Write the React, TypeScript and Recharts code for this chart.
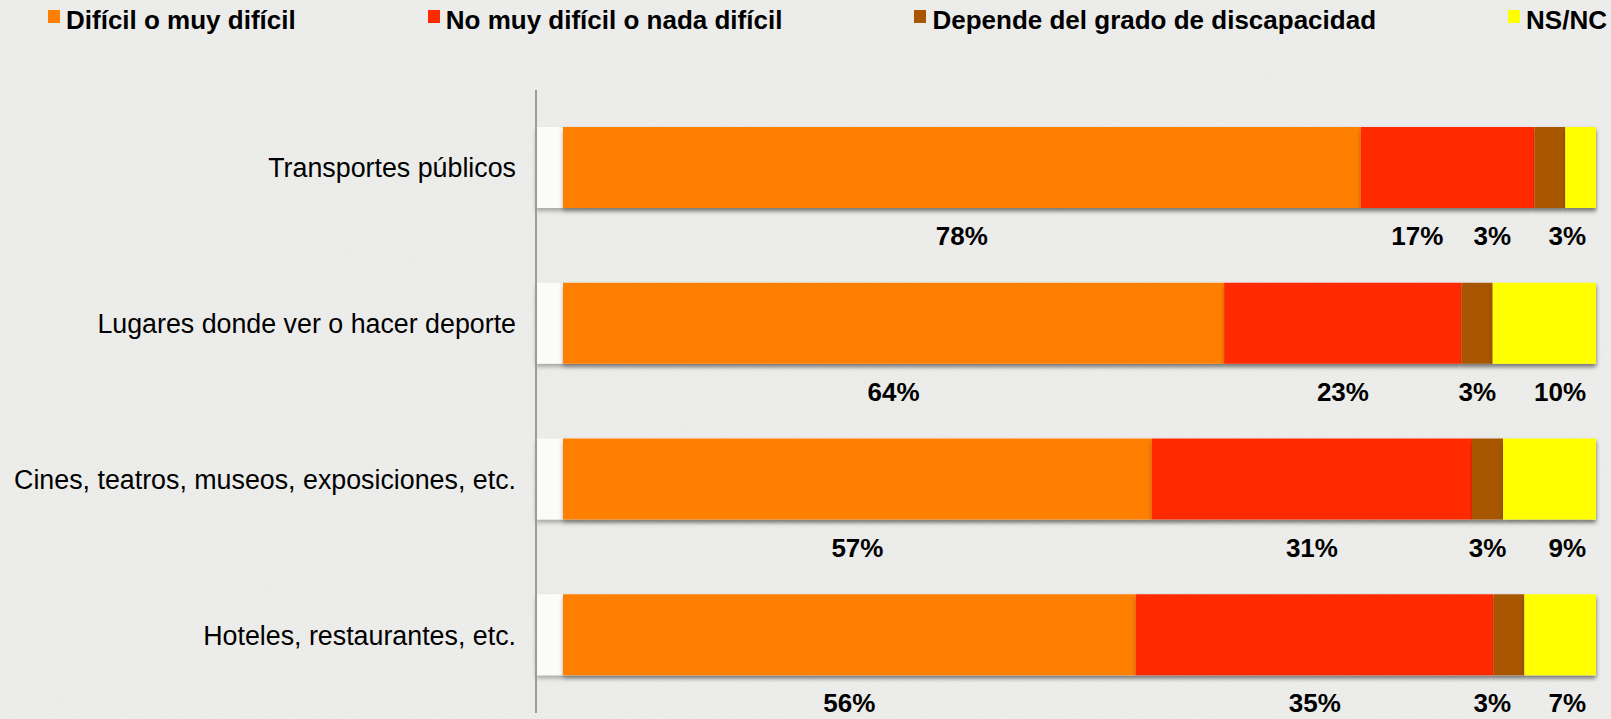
import React from 'react';
import { BarChart, Bar, XAxis, YAxis, Legend, LabelList } from 'recharts';

const categories = [
  'Transportes públicos',
  'Lugares donde ver o hacer deporte',
  'Cines, teatros, museos, exposiciones, etc.',
  'Hoteles, restaurantes, etc.',
];
const dificil = [78, 64, 57, 56];
const noDificil = [17, 23, 31, 35];
const depende = [3, 3, 3, 3];
const nsnc = [3, 10, 9, 7];

const seriesNames = [
  'Difícil o muy difícil',
  'No muy difícil o nada difícil',
  'Depende del grado de discapacidad',
  'NS/NC',
];
const seriesKeys = ['dificil', 'noDificil', 'depende', 'nsnc'];
const seriesColors = ['#ff8000', '#ff2a00', '#a85700', '#ffff00'];
const seriesValues = [dificil, noDificil, depende, nsnc];

const data = categories.map((name, i) => ({
  name,
  dificil: dificil[i],
  noDificil: noDificil[i],
  depende: depende[i],
  nsnc: nsnc[i],
}));

const FONT = '"Liberation Sans", Arial, Helvetica, sans-serif';

function renderLegend() {
  return (
    <div
      style={{
        height: 90,
        width: 1611,
        boxSizing: 'border-box',
        paddingLeft: 48,
        paddingRight: 4,
        display: 'flex',
        justifyContent: 'space-between',
        alignItems: 'flex-start',
        fontFamily: FONT,
      }}
    >
      {seriesNames.map((n, i) => (
        <div key={n} style={{ display: 'flex', alignItems: 'flex-start', marginTop: 6 }}>
          <span
            style={{
              display: 'inline-block',
              width: 12,
              height: 13,
              background: seriesColors[i],
              marginTop: 4,
              marginRight: 6,
            }}
          />
          <span style={{ fontSize: 26, fontWeight: 'bold', color: '#000', lineHeight: '28px' }}>{n}</span>
        </div>
      ))}
    </div>
  );
}

// labels below each segment; the last one hugs the bar end, the others are
// pushed left when they would run into their right neighbour
function makeLabel(k: number) {
  return (props: any) => {
    const { x, y, width, height, index } = props;
    const row = seriesValues.map((s) => s[index]);
    const total = row.reduce((a, b) => a + b, 0);
    const ppu = width / row[k];
    let cum = 0;
    for (let i = 0; i < k; i++) cum += row[i];
    const start = x - cum * ppu;
    const end = start + total * ppu;
    const centers: number[] = [];
    let c = 0;
    for (let i = 0; i < row.length; i++) {
      centers.push(start + (c + row[i] / 2) * ppu);
      c += row[i];
    }
    const lastW = String(row[3]).length * 14.5 + 23;
    const resolved = [0, 0, 0, 0];
    let pos = end - 10 - lastW / 2;
    resolved[3] = pos;
    for (let i = 2; i >= 0; i--) {
      pos = Math.min(centers[i], pos - 75);
      resolved[i] = pos;
    }
    return (
      <text
        x={resolved[k]}
        y={y + height + 37}
        textAnchor="middle"
        fontSize={26}
        fontWeight="bold"
        fontFamily={FONT}
        fill="#000"
      >
        {row[k]}%
      </text>
    );
  };
}

const barShape = (props: any) => {
  const { x, y, width, height, fill } = props;
  return <rect x={x} y={y} width={width} height={height} fill={fill} filter="url(#barShadow)" />;
};

export default function App() {
  return (
    <div style={{ position: 'absolute', left: 0, top: 0, width: 1611, height: 719, background: '#efefed', overflow: 'hidden' }}>
      <svg width={1611} height={719} style={{ position: 'absolute', left: 0, top: 0 }}>
        <filter id="paper">
          <feTurbulence type="fractalNoise" baseFrequency="0.9" numOctaves={3} seed={4} />
          <feColorMatrix type="saturate" values="0" />
        </filter>
        <rect width={1611} height={719} filter="url(#paper)" opacity={0.12} />
      </svg>
      <div style={{ position: 'absolute', left: 0, top: 0 }}>
        <BarChart
          width={1611}
          height={719}
          data={data}
          layout="vertical"
          stackOffset="expand"
          barSize={81}
          margin={{ top: 0, right: 15, bottom: 6, left: 0 }}
        >
          <defs>
            <filter id="barShadow" x="-5%" y="-20%" width="110%" height="150%">
              <feDropShadow dx={0} dy={3} stdDeviation={2} floodColor="#000" floodOpacity={0.3} />
            </filter>
          </defs>
          <Legend verticalAlign="top" content={renderLegend} wrapperStyle={{ top: 0, left: 0, width: 1611 }} />
          <XAxis type="number" hide domain={[0, 1]} padding={{ left: 27, right: 0 }} />
          <YAxis
            type="category"
            dataKey="name"
            width={536}
            tickLine={false}
            tickSize={0}
            tickMargin={20}
            axisLine={{ stroke: '#9c9c9c', strokeWidth: 2 }}
            tick={{ fill: '#000', fontSize: 26.8, fontFamily: FONT }}
            interval={0}
          />
          {seriesKeys.map((key, k) => (
            <Bar
              key={key}
              dataKey={key}
              name={seriesNames[k]}
              stackId="a"
              fill={seriesColors[k]}
              isAnimationActive={false}
              shape={barShape}
              background={k === 0 ? { fill: '#fbfbfa', filter: 'url(#barShadow)' } : undefined}
            >
              <LabelList dataKey={key} content={makeLabel(k)} />
            </Bar>
          ))}
        </BarChart>
      </div>
    </div>
  );
}
